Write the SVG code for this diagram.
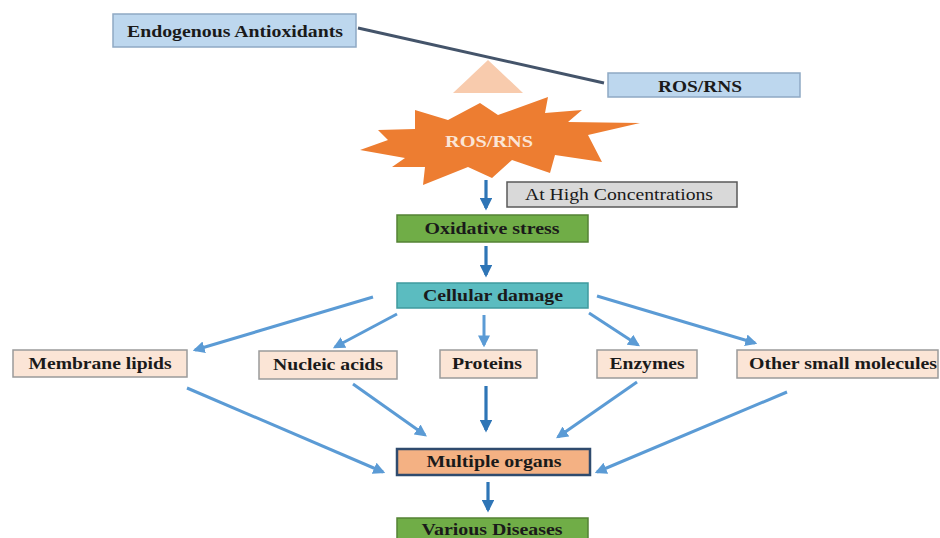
<svg xmlns="http://www.w3.org/2000/svg" width="940" height="538" viewBox="0 0 940 538">
<defs>
<style>
.t{font-family:"Liberation Serif","Times New Roman",serif;font-weight:bold;font-size:16px;fill:#1a1a1a;text-anchor:middle}
.r{font-weight:normal}
.blue{fill:#bdd7ee;stroke:#8fa9c4;stroke-width:1.5}
.peach{fill:#fbe5d6;stroke:#9a9a9a;stroke-width:1.5}
.green{fill:#70ad47;stroke:#548235;stroke-width:1.5}
.c1{stroke:#2e75b6;stroke-width:3.2;fill:none;marker-end:url(#a1)}
.c2{stroke:#5b9bd5;stroke-width:3;fill:none;marker-end:url(#a2)}
</style>
<marker id="a1" viewBox="0 0 10 10" refX="8" refY="5" markerWidth="4" markerHeight="4" orient="auto" markerUnits="strokeWidth"><path d="M0,0 L10,5 L0,10 z" fill="#2e75b6"/></marker>
<marker id="a2" viewBox="0 0 10 10" refX="8" refY="5" markerWidth="4" markerHeight="4" orient="auto" markerUnits="strokeWidth"><path d="M0,0 L10,5 L0,10 z" fill="#5b9bd5"/></marker>
</defs>
<rect width="940" height="538" fill="#ffffff"/>
<g id="connectors">
<line x1="358" y1="28" x2="604" y2="83" stroke="#44546a" stroke-width="3"/>
<line class="c1" x1="486" y1="180" x2="486" y2="208"/>
<line class="c1" x1="486" y1="246" x2="486" y2="275"/>
<line class="c2" x1="373" y1="297" x2="195" y2="350"/>
<line class="c2" x1="397" y1="314" x2="335" y2="347"/>
<line class="c2" x1="484" y1="315" x2="484" y2="345"/>
<line class="c2" x1="589" y1="313" x2="638" y2="345"/>
<line class="c2" x1="597" y1="296" x2="755" y2="343"/>
<line class="c2" x1="187" y1="388" x2="383" y2="472"/>
<line class="c2" x1="353" y1="384" x2="425" y2="435"/>
<line class="c1" x1="486" y1="386" x2="486" y2="430"/>
<line class="c2" x1="637" y1="382" x2="558" y2="437"/>
<line class="c2" x1="787" y1="392" x2="597" y2="472"/>
<line class="c1" x1="488" y1="482" x2="488" y2="510"/>
</g>
<g id="fulcrum"><polygon points="488,60 523,93 453,93" fill="#f8cbad"/></g>
<g id="endogenous"><rect class="blue" x="113" y="14" width="243" height="33"/><text class="t" x="235" y="37" textLength="216" lengthAdjust="spacingAndGlyphs">Endogenous Antioxidants</text></g>
<g id="ros-right"><rect class="blue" x="608" y="73" width="192" height="24"/><text class="t" x="700" y="92" textLength="84" lengthAdjust="spacingAndGlyphs">ROS/RNS</text></g>
<g id="ros-star"><polygon fill="#ed7d31" points="360,150 388,140 378,130 415,129 415,110 448,120 480,103 498,115 548,97 545,113 582,110 568,122 640,123 588,135 602,162 555,155 550,173 512,160 492,178 468,167 423,185 425,167 392,167 405,158"/><text class="t" x="489" y="147" style="fill:#fbe5d6" textLength="88" lengthAdjust="spacingAndGlyphs">ROS/RNS</text></g>
<g id="high-conc"><rect x="507" y="182" width="230" height="25" fill="#d9d9d9" stroke="#595959" stroke-width="1.5"/><text class="t r" x="619" y="200" textLength="188" lengthAdjust="spacingAndGlyphs">At High  Concentrations</text></g>
<g id="oxidative"><rect class="green" x="397" y="215" width="191" height="27"/><text class="t" x="492" y="234" textLength="135" lengthAdjust="spacingAndGlyphs">Oxidative stress</text></g>
<g id="cellular"><rect x="397" y="283" width="191" height="25" fill="#5bbcc0" stroke="#3f9a9e" stroke-width="1.5"/><text class="t" x="493" y="301" textLength="140" lengthAdjust="spacingAndGlyphs">Cellular damage</text></g>
<g id="lipids"><rect class="peach" x="13" y="350" width="174" height="27"/><text class="t" x="100" y="369" textLength="143" lengthAdjust="spacingAndGlyphs">Membrane lipids</text></g>
<g id="nucleic"><rect class="peach" x="259" y="351" width="138" height="28"/><text class="t" x="328" y="370" textLength="110" lengthAdjust="spacingAndGlyphs">Nucleic acids</text></g>
<g id="proteins"><rect class="peach" x="440" y="350" width="97" height="28"/><text class="t" x="487" y="369" textLength="70" lengthAdjust="spacingAndGlyphs">Proteins</text></g>
<g id="enzymes"><rect class="peach" x="597" y="350" width="100" height="28"/><text class="t" x="647" y="369" textLength="75" lengthAdjust="spacingAndGlyphs">Enzymes</text></g>
<g id="other"><rect class="peach" x="737" y="350" width="201" height="28"/><text class="t" x="843" y="369" textLength="188" lengthAdjust="spacingAndGlyphs">Other small molecules</text></g>
<g id="organs"><rect x="397" y="449" width="193" height="26" fill="#f4b183" stroke="#2f4b6e" stroke-width="2.5"/><text class="t" x="494" y="467" textLength="135" lengthAdjust="spacingAndGlyphs">Multiple organs</text></g>
<g id="diseases"><rect class="green" x="397" y="518" width="191" height="26"/><text class="t" x="492" y="535" textLength="141" lengthAdjust="spacingAndGlyphs">Various Diseases</text></g>
</svg>
